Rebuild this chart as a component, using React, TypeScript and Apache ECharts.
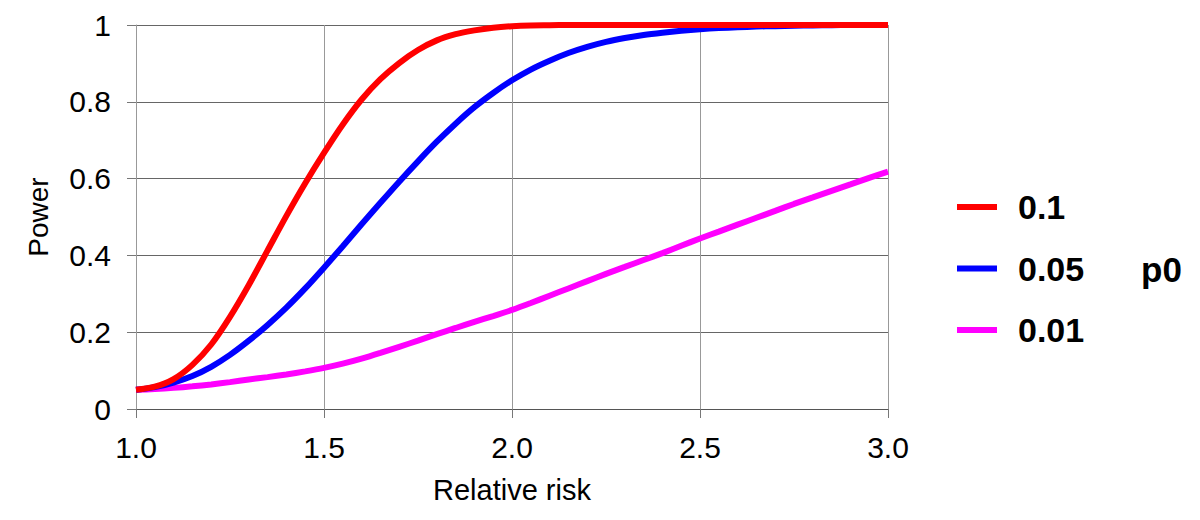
import React, { useEffect, useRef } from "react";
import * as echarts from "echarts";

const relativeRisk = [
  1.0, 1.05, 1.1, 1.15, 1.2, 1.25, 1.3, 1.35, 1.4, 1.45, 1.5, 1.55, 1.6, 1.65, 1.7, 1.75, 1.8, 1.85, 1.9, 1.95,
  2.0, 2.05, 2.1, 2.15, 2.2, 2.25, 2.3, 2.35, 2.4, 2.45, 2.5, 2.55, 2.6, 2.65, 2.7, 2.75, 2.8, 2.85, 2.9, 2.95, 3.0,
];
const power01 = [
  0.05, 0.058, 0.078, 0.115, 0.168, 0.24, 0.323, 0.413, 0.503, 0.588, 0.667, 0.741, 0.806, 0.859, 0.901, 0.935, 0.96, 0.976, 0.986, 0.993,
  0.997, 0.999, 0.9995, 1, 1, 1, 1, 1, 1, 1, 1, 1, 1, 1, 1, 1, 1, 1, 1, 1, 1,
];
const power005 = [
  0.05, 0.057, 0.069, 0.086, 0.11, 0.141, 0.178, 0.219, 0.264, 0.314, 0.368, 0.424, 0.481, 0.537, 0.592, 0.645, 0.696, 0.743, 0.786, 0.823,
  0.856, 0.884, 0.907, 0.927, 0.943, 0.956, 0.966, 0.974, 0.98, 0.985, 0.989, 0.992, 0.994, 0.996, 0.997, 0.998, 0.999, 0.9995, 1, 1, 1,
];
const power001 = [
  0.05, 0.052, 0.055, 0.059, 0.064, 0.07, 0.077, 0.083, 0.09, 0.098, 0.107, 0.118, 0.131, 0.146, 0.162, 0.178, 0.195, 0.211, 0.227, 0.242,
  0.258, 0.276, 0.295, 0.314, 0.333, 0.352, 0.37, 0.388, 0.406, 0.425, 0.444, 0.462, 0.48, 0.498, 0.516, 0.534, 0.551, 0.568, 0.585, 0.602, 0.618,
];
const seriesNames = ["0.1", "0.05", "0.01"];
const seriesColors = ["#ff0000", "#0000ff", "#ff00ff"];
const legendTitle = "p0";
const xTitle = "Relative risk";
const yTitle = "Power";

const FONT = "'Liberation Sans', Arial, Helvetica, sans-serif";

export default function App() {
  const ref = useRef<HTMLDivElement>(null);
  useEffect(() => {
    if (!ref.current) return;
    const chart = echarts.init(ref.current, undefined, { renderer: "svg" });
    const values = [power01, power005, power001];
    const series = [2, 1, 0].map((i) => ({
      name: seriesNames[i],
      type: "line",
      data: relativeRisk.map((x, k) => [x, values[i][k]]),
      smooth: 0.3,
      showSymbol: false,
      symbol: "none",
      lineStyle: { width: 6, color: seriesColors[i] },
      itemStyle: { color: seriesColors[i] },
      z: 3 - i,
    }));
    chart.setOption({
      animation: false,
      backgroundColor: "#ffffff",
      textStyle: { fontFamily: FONT },
      grid: { left: 136, top: 25, right: 312, bottom: 111, containLabel: false },
      xAxis: {
        type: "value",
        min: 1,
        max: 3,
        interval: 0.5,
        name: xTitle,
        nameLocation: "middle",
        nameGap: 66,
        nameTextStyle: { fontSize: 29, color: "#000", fontFamily: FONT },
        axisLine: { show: true, lineStyle: { color: "#555", width: 1 } },
        axisTick: { show: true, length: 9, lineStyle: { color: "#777" } },
        axisLabel: {
          fontSize: 30,
          color: "#000",
          margin: 23,
          fontFamily: FONT,
          formatter: (v: number) => v.toFixed(1),
        },
        splitLine: { show: true, lineStyle: { color: "#999", width: 1 } },
      },
      yAxis: {
        type: "value",
        min: 0,
        max: 1,
        interval: 0.2,
        name: yTitle,
        nameLocation: "middle",
        nameGap: 84,
        nameTextStyle: { fontSize: 28, color: "#000", fontFamily: FONT },
        axisLine: { show: true, lineStyle: { color: "#999", width: 1 } },
        axisTick: { show: true, length: 9, lineStyle: { color: "#777" } },
        axisLabel: {
          fontSize: 30,
          color: "#000",
          margin: 25,
          fontFamily: FONT,
          formatter: (v: number) => (v === 0 || v === 1 ? String(v) : v.toFixed(1)),
        },
        splitLine: { show: true, lineStyle: { color: "#666", width: 1 } },
      },
      legend: {
        orient: "vertical",
        left: 957,
        top: 190,
        padding: 0,
        data: seriesNames,
        icon: "rect",
        itemWidth: 40,
        itemHeight: 6,
        itemGap: 27.5,
        textStyle: { fontSize: 34, fontWeight: "bold", color: "#000", fontFamily: FONT, lineHeight: 34, padding: [0, 0, 0, 16] },
      },
      graphic: [
        {
          type: "text",
          left: 1141,
          top: 252,
          style: { text: legendTitle, fontSize: 35, fontWeight: "bold", fill: "#000", fontFamily: FONT },
        },
      ],
      series,
    });
    return () => chart.dispose();
  }, []);
  return <div ref={ref} style={{ position: "fixed", left: 0, top: 0, width: 1200, height: 520 }} />;
}
